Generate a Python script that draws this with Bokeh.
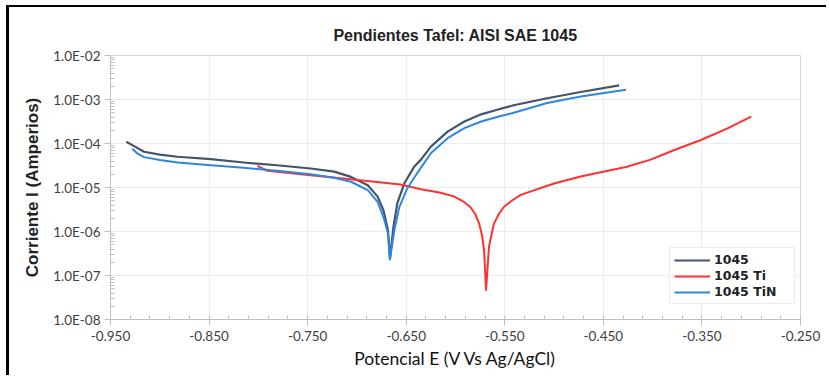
from bokeh.plotting import figure
from bokeh.models import (FixedTicker, NumeralTickFormatter, CustomJSTickFormatter,
                          Legend, LegendItem, Title)
from bokeh.embed import file_html
from bokeh.resources import INLINE

# ---- data ----
e_1045 = [-0.934, -0.926, -0.916, -0.900, -0.882, -0.848, -0.815, -0.781, -0.747, -0.723,
          -0.706, -0.689, -0.679, -0.673, -0.6685, -0.6665, -0.663, -0.659, -0.652, -0.642,
          -0.635, -0.625, -0.608, -0.591, -0.574, -0.556, -0.541, -0.507, -0.473, -0.434]
i_1045 = [1.10e-4, 8.7e-5, 6.5e-5, 5.6e-5, 5.0e-5, 4.4e-5, 3.7e-5, 3.2e-5, 2.7e-5, 2.3e-5,
          1.74e-5, 1.12e-5, 6.2e-6, 3.0e-6, 1.07e-6, 2.4e-7, 1.26e-6, 4.4e-6, 1.23e-5, 2.95e-5,
          4.3e-5, 8.5e-5, 1.86e-4, 3.16e-4, 4.6e-4, 6.0e-4, 7.4e-4, 1.07e-3, 1.48e-3, 2.09e-3]

e_ti = [-0.801, -0.791, -0.747, -0.689, -0.656, -0.635, -0.615, -0.601, -0.592, -0.585,
        -0.580, -0.576, -0.573, -0.571, -0.569, -0.566, -0.563, -0.561, -0.556, -0.551,
        -0.543, -0.534, -0.500, -0.473, -0.449, -0.426, -0.402, -0.378, -0.351, -0.324,
        -0.300]
i_ti = [3.1e-5, 2.4e-5, 1.9e-5, 1.41e-5, 1.17e-5, 9.1e-6, 7.6e-6, 6.2e-6, 4.8e-6, 3.6e-6,
        2.5e-6, 1.51e-6, 8.0e-7, 3.7e-7, 4.7e-8, 4.5e-7, 9.5e-7, 1.51e-6, 2.5e-6, 3.6e-6,
        5.0e-6, 6.8e-6, 1.23e-5, 1.78e-5, 2.3e-5, 2.95e-5, 4.3e-5, 7.1e-5, 1.2e-4, 2.2e-4,
        4.1e-4]

e_tin = [-0.928, -0.923, -0.916, -0.900, -0.882, -0.848, -0.815, -0.781, -0.747, -0.723,
         -0.706, -0.689, -0.679, -0.673, -0.6685, -0.6665, -0.662, -0.657, -0.649, -0.639,
         -0.625, -0.608, -0.591, -0.574, -0.556, -0.541, -0.507, -0.473, -0.427]
i_tin = [7.6e-5, 6.0e-5, 4.9e-5, 4.2e-5, 3.7e-5, 3.2e-5, 2.8e-5, 2.4e-5, 2.0e-5, 1.66e-5,
         1.35e-5, 8.7e-6, 4.7e-6, 2.1e-6, 9.0e-7, 2.3e-7, 1.07e-6, 3.6e-6, 9.5e-6, 2.1e-5,
         6.0e-5, 1.32e-4, 2.24e-4, 3.16e-4, 4.1e-4, 5.0e-4, 8.3e-4, 1.17e-3, 1.66e-3]

series_names = ["1045", "1045 Ti", "1045 TiN"]
x_ticks = [-0.95, -0.85, -0.75, -0.65, -0.55, -0.45, -0.35, -0.25]
x_minor = [round(-0.95 + 0.02 * k, 3) for k in range(36)]
y_ticks = [1e-8, 1e-7, 1e-6, 1e-5, 1e-4, 1e-3, 1e-2]
y_minor = [m * 10.0 ** n for n in range(-8, -2) for m in range(2, 10)]

title_text = "Pendientes Tafel: AISI SAE 1045"
x_label = "Potencial E (V Vs Ag/AgCl)"
y_label = "Corriente I (Amperios)"

colors = ["#44546A", "#FF3030", "#2F86DE"]

p = figure(width=820, height=370, x_range=(-0.95, -0.25), y_range=(1e-8, 1e-2),
           y_axis_type="log", output_backend="svg", toolbar_location=None,
           min_border_left=101, min_border_right=29, min_border_top=48, min_border_bottom=58)
p.styles = {"border-left": "3px solid #000", "border-top": "2px solid #000",
            "margin-left": "6px", "margin-top": "5px"}

p.title = Title(text=title_text, align="center", text_font="Liberation Sans",
                text_font_size="16px", text_font_style="bold", text_color="#222222",
                standoff=24)

p.outline_line_color = "#d9d9d9"
p.background_fill_color = "white"
p.border_fill_color = "white"

# axes
p.xaxis.ticker = FixedTicker(ticks=x_ticks, minor_ticks=x_minor)
p.xaxis.formatter = NumeralTickFormatter(format="0.000")
p.yaxis.ticker = FixedTicker(ticks=y_ticks, minor_ticks=y_minor)
p.yaxis.formatter = CustomJSTickFormatter(code="""
const e = Math.round(Math.log10(tick));
const a = Math.abs(e);
return "1.0E" + (e < 0 ? "-" : "+") + (a < 10 ? "0" + a : "" + a);
""")
for ax in (p.xaxis[0], p.yaxis[0]):
    ax.axis_line_color = "#bfbfbf"
    ax.major_tick_line_color = "#bfbfbf"
    ax.minor_tick_line_color = "#bfbfbf"
    ax.major_tick_out = 6
    ax.major_tick_in = 0
    ax.minor_tick_in = 4
    ax.minor_tick_out = 0
    ax.major_label_text_font = "Lato"
    ax.major_label_text_font_size = "13.5px"
    ax.major_label_text_color = "#404040"

p.xaxis.major_label_standoff = 5
p.yaxis.major_label_standoff = 4

p.xaxis.axis_label = x_label
p.xaxis.axis_label_text_font = "Lato"
p.xaxis.axis_label_text_font_size = "17.5px"
p.xaxis.axis_label_text_font_style = "normal"
p.xaxis.axis_label_text_color = "#111111"
p.xaxis.axis_label_standoff = 4

p.yaxis.axis_label = y_label
p.yaxis.axis_label_text_font = "Liberation Sans"
p.yaxis.axis_label_text_font_size = "17px"
p.yaxis.axis_label_text_font_style = "bold"
p.yaxis.axis_label_text_color = "#222222"
p.yaxis.axis_label_standoff = 8

p.xgrid.grid_line_color = "#ececec"
p.ygrid.grid_line_color = "#ececec"

r1 = p.line(e_1045, i_1045, line_color=colors[0], line_width=2.2, line_join="round")
r2 = p.line(e_ti, i_ti, line_color=colors[1], line_width=2.0, line_join="round")
r3 = p.line(e_tin, i_tin, line_color=colors[2], line_width=2.0, line_join="round")

legend = Legend(items=[LegendItem(label=series_names[0], renderers=[r1]),
                       LegendItem(label=series_names[1], renderers=[r2]),
                       LegendItem(label=series_names[2], renderers=[r3])],
                location=(559, 15), orientation="vertical",
                label_text_font="DejaVu Sans", label_text_font_size="12.5px",
                label_text_font_style="bold", label_text_color="#222222",
                glyph_width=36, glyph_height=14, label_height=14, label_width=76,
                label_standoff=4, spacing=1, padding=4, margin=0,
                border_line_color="#d9d9d9", background_fill_color="white")
p.add_layout(legend, "center")

open("out.html", "w").write(file_html(p, INLINE))
